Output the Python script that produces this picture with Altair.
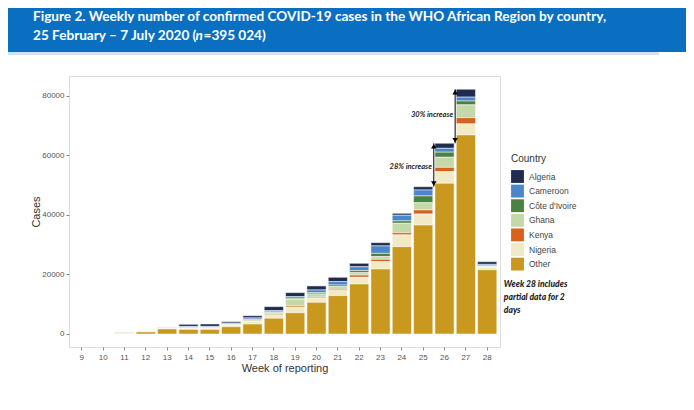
import altair as alt
import pandas as pd

weeks = list(range(9, 29))
countries = ["Algeria", "Cameroon", "Côte d'Ivoire", "Ghana", "Kenya", "Nigeria", "Other"]
colors = ["#1f2c4f", "#4a86c8", "#4b8141", "#c3d9a7", "#d8621b", "#f1eac6", "#c8981f"]

# values per week (weeks 9..28)
algeria  = [0, 0, 150, 100, 100, 700, 800, 500, 750, 1350, 1350, 1350, 1450, 1150, 1100, 650, 1100, 1700, 2650, 900]
cameroon = [0, 0, 100, 0, 50, 300, 300, 250, 450, 450, 550, 900, 1150, 1300, 2500, 1900, 2000, 1300, 1300, 500]
cdi      = [0, 0, 0, 0, 100, 200, 150, 200, 250, 250, 350, 450, 550, 700, 1100, 800, 2300, 1700, 1300, 200]
ghana    = [0, 0, 0, 50, 150, 150, 200, 250, 450, 450, 2250, 1100, 900, 800, 900, 3150, 2400, 3400, 4300, 200]
kenya    = [0, 0, 0, 100, 0, 50, 50, 50, 100, 300, 450, 350, 450, 750, 800, 750, 1400, 1450, 2100, 100]
nigeria  = [0, 0, 100, 50, 150, 300, 300, 450, 800, 1100, 1800, 1350, 1650, 2250, 2450, 3950, 3700, 3900, 3700, 800]
other    = [0, 0, 100, 700, 1700, 1550, 1550, 2450, 3350, 5300, 7150, 10650, 12900, 16800, 21850, 29350, 36600, 50650, 66900, 21600]

series = [algeria, cameroon, cdi, ghana, kenya, nigeria, other]
stack_rank = {"Other": 0, "Nigeria": 1, "Kenya": 2, "Ghana": 3, "Côte d'Ivoire": 4, "Cameroon": 5, "Algeria": 6}

rows = []
for c, vals in zip(countries, series):
    for w, v in zip(weeks, vals):
        rows.append({"week": w, "country": c, "cases": v, "rank": stack_rank[c]})
df = pd.DataFrame(rows)

# annotations
arrows = pd.DataFrame([
    {"week": 26, "top": 82250, "bottom": 64100, "label": "30% increase", "ly": 73600},
    {"week": 25, "top": 64100, "bottom": 49500, "label": "28% increase", "ly": 56100},
])
note = pd.DataFrame([{"week": 28, "y": 18300, "text": ["Week 28 includes", "partial data for 2", "days"]}])

title_df = pd.DataFrame([{"t": 1}])
title_line1 = "Figure 2. Weekly number of confirmed COVID-19 cases in the WHO African Region by country,"
title_line2a = "25 February – 7 July 2020 ("
title_line2b = "n"
title_line2c = "=395 024)"

W, H = 431, 271
xscale = alt.Scale(domain=weeks, paddingInner=0.1, paddingOuter=0.15)
yscale = alt.Scale(domain=[-4370, 86700], nice=False, zero=False)

bars = alt.Chart(df).mark_bar(stroke="white", strokeWidth=0.5).encode(
    x=alt.X("week:O", scale=xscale, sort=weeks,
            axis=alt.Axis(title="Week of reporting", labelAngle=0, domain=False,
                          tickColor="#888", tickSize=3, labelColor="#555", labelFontSize=8,
                          labelFont="Liberation Sans", titleFont="Liberation Sans",
                          titleFontSize=11, titleFontWeight="normal", titleColor="#333",
                          titlePadding=1, labelPadding=3)),
    y=alt.Y("cases:Q", scale=yscale, stack="zero",
            axis=alt.Axis(title="Cases", values=[0, 20000, 40000, 60000, 80000], format="d",
                          domain=False, grid=False, tickColor="#888", tickSize=3,
                          labelColor="#555", labelFontSize=8, labelFont="Liberation Sans",
                          titleFont="Liberation Sans", titleFontSize=11,
                          titleFontWeight="normal", titleColor="#333", titlePadding=0, labelPadding=2)),
    color=alt.Color("country:N", scale=alt.Scale(domain=countries, range=colors),
                    legend=alt.Legend(title="Country", orient="none", legendX=442, legendY=78,
                                      symbolType="square", symbolSize=165, symbolStrokeWidth=0,
                                      titleFontSize=10, titleFontWeight="normal", titleColor="#333",
                                      titleFont="Liberation Sans", labelFont="Liberation Sans",
                                      labelFontSize=8.5, labelColor="#444", rowPadding=1.6,
                                      titlePadding=6, labelOffset=5)),
    order=alt.Order("rank:Q", sort="ascending"),
)

xa = alt.X("week:O", scale=xscale, bandPosition=1)
rule = alt.Chart(arrows).mark_rule(color="black", strokeWidth=1, xOffset=1).encode(
    x=xa, y=alt.Y("top:Q", scale=yscale), y2="bottom:Q",
)
head_up = alt.Chart(arrows).mark_point(shape="triangle-up", filled=True, color="black",
                                       size=30, opacity=1, xOffset=1, yOffset=3).encode(
    x=xa, y=alt.Y("top:Q", scale=yscale),
)
head_down = alt.Chart(arrows).mark_point(shape="triangle-down", filled=True, color="black",
                                         size=30, opacity=1, xOffset=1, yOffset=-3).encode(
    x=xa, y=alt.Y("bottom:Q", scale=yscale),
)
arrow_text = alt.Chart(arrows).mark_text(align="right", baseline="middle", dx=-1,
                                         font="Lato", fontSize=7.5, fontStyle="italic",
                                         fontWeight="bold", color="#222").encode(
    x=xa, y=alt.Y("ly:Q", scale=yscale), text="label:N",
)
note_text = alt.Chart(note).mark_text(align="left", baseline="top", dx=7, lineHeight=13,
                                      font="Lato", fontSize=8.5, fontStyle="italic",
                                      fontWeight=900, color="#222").encode(
    x=xa, y=alt.Y("y:Q", scale=yscale), text="text",
)

# header banner (decoration)
banner = alt.Chart(title_df).mark_rect(color="#0b6fc1", cornerRadiusBottomRight=46).encode(
    x=alt.value(-80), x2=alt.value(650), y=alt.value(-90), y2=alt.value(-24))
banner_line = alt.Chart(title_df).mark_rect(color="#cfe2f4").encode(
    x=alt.value(-80), x2=alt.value(590), y=alt.value(-24), y2=alt.value(-21))
tstyle = dict(align="left", baseline="alphabetic", font="Lato", fontSize=13.6,
              fontWeight="bold", color="white")
t1 = alt.Chart(title_df).mark_text(**tstyle).encode(
    x=alt.value(-36), y=alt.value(-55), text=alt.value(title_line1))
t2a = alt.Chart(title_df).mark_text(**tstyle).encode(
    x=alt.value(-36), y=alt.value(-36), text=alt.value(title_line2a))
t2b = alt.Chart(title_df).mark_text(**tstyle, fontStyle="italic").encode(
    x=alt.value(126.5), y=alt.value(-36), text=alt.value(title_line2b))
t2c = alt.Chart(title_df).mark_text(**tstyle).encode(
    x=alt.value(134.5), y=alt.value(-36), text=alt.value(title_line2c))

chart = alt.layer(banner, banner_line, t1, t2a, t2b, t2c, bars, rule, head_up, head_down,
                  arrow_text, note_text).properties(
    width=W, height=H,
    autosize=alt.AutoSizeParams(type="none"),
    padding={"left": 61, "top": 68, "right": 186, "bottom": 55},
).configure_view(stroke="#9a9a9a", strokeWidth=1).configure(background="white")

chart.save("out.html", embed_options={"renderer": "svg", "actions": False})
